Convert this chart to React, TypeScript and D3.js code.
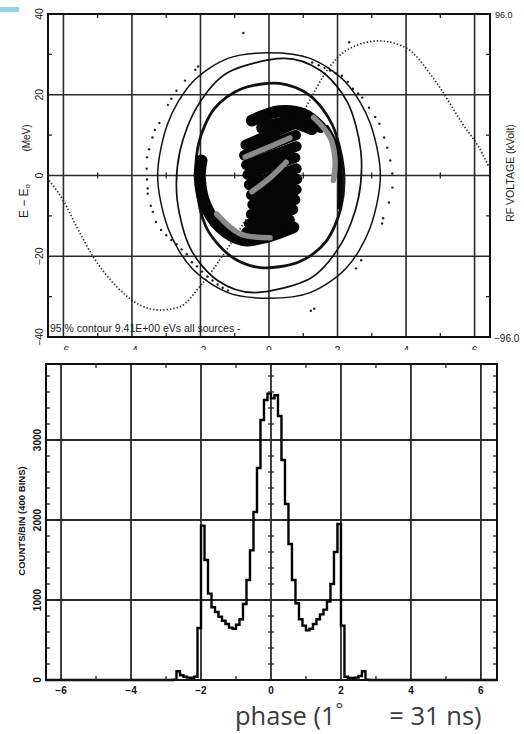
import * as d3 from "d3";

// axis ticks
const phaseTicks = [-6, -4, -2, 0, 2, 4, 6];
const energyTicks = [40, 20, 0, -20, -40];
const energyGrid = [20, 0, -20];
const energyMinor = [30, 10, -10, -30];
const countTicks = [0, 1000, 2000, 3000];
const countGrid = [1000, 2000, 3000];

// phase histogram, 0.1 deg bins (left edges)
const histPhase = [
  -2.8, -2.7, -2.6, -2.5, -2.4, -2.3, -2.2, -2.1, -2.0, -1.9, -1.8, -1.7, -1.6, -1.5,
  -1.4, -1.3, -1.2, -1.1, -1.0, -0.9, -0.8, -0.7, -0.6, -0.5, -0.4, -0.3, -0.2, -0.1,
  0.0, 0.1, 0.2, 0.3, 0.4, 0.5, 0.6, 0.7, 0.8, 0.9, 1.0, 1.1, 1.2, 1.3, 1.4, 1.5,
  1.6, 1.7, 1.8, 1.9, 2.0, 2.1, 2.2, 2.3, 2.4, 2.5, 2.6, 2.7,
];
const histCounts = [
  5, 110, 60, 40, 30, 25, 40, 650, 1930, 1500, 1080, 910, 850, 790,
  740, 700, 655, 640, 690, 760, 950, 1250, 1620, 2100, 2650, 3250, 3500, 3580,
  3520, 3560, 3300, 2750, 2200, 1700, 1250, 960, 760, 680, 620, 640, 700, 760, 820, 880,
  980, 1200, 1600, 1950, 680, 40, 25, 25, 30, 50, 110, 5,
];
const histEnd = 2.8;

// RF voltage (kV) vs phase
const rfPhase = [-6.42, -6.0, -5.6, -5.14, -4.45, -3.77, -3.19, -2.6, -2.02, -1.43, -1.04, -0.5, 0, 0.5, 1.06, 1.75, 2.23, 3.2, 3.99, 4.86, 5.64, 6.23, 6.42];
const rfVolt = [-3, -15, -31, -48, -66, -77, -80, -78, -66, -50, -38, -20, 0, 20, 40, 64, 74, 80, 76, 56, 31, 13, 5];

// contours (phase, MeV)
const outerContour: [number, number][] = [
  [0, 30.4], [1.2, 29], [2.25, 23], [2.95, 13], [3.25, 0], [2.95, -13], [2.25, -23], [1.2, -29],
  [0, -30.4], [-1.2, -29], [-2.25, -23], [-2.95, -13], [-3.25, 0], [-2.95, 13], [-2.25, 23], [-1.2, 29],
];
const middleContour: [number, number][] = [
  [0.4, 29], [1.5, 26], [2.3, 18], [2.68, 6], [2.6, -6], [2.1, -17], [1.2, -25.5],
  [-0.4, -29], [-1.5, -26], [-2.3, -18], [-2.68, -6], [-2.6, 6], [-2.1, 17], [-1.2, 25.5],
];
const innerContour: [number, number][] = [
  [0.3, 22.8], [1.2, 19.8], [1.85, 12.5], [2.17, 2], [2.1, -8], [1.65, -16.5], [0.85, -21.5],
  [-0.25, -22.8], [-1.15, -19.8], [-1.85, -12.5], [-2.12, -2], [-2.05, 8], [-1.6, 16.5], [-0.8, 21.5],
];

// beam particles, drawn as brush strokes
const armStrokes: [number, number][][] = [
  [[-0.5, 13.6], [0.3, 15.9], [1.0, 15.2], [1.5, 12.0]],
  [[-0.2, 11.8], [0.6, 13.2], [1.25, 11.5]],
  [[0.71, -12.8], [-0.07, -15.2], [-0.75, -16.0], [-1.43, -12.8], [-1.87, -7.0], [-2.02, -0.4], [-1.97, 3.7]],
];
const thinArm: [number, number][] = [[1.69, 11.9], [1.98, 7.0], [2.08, 0.4], [2.06, -7.8]];
const coreStrokes: [number, number][][] = [
  [[-0.68, 7.6], [0.2, 10.8], [0.95, 13.6]],
  [[-0.72, 5.0], [0.1, 7.8], [0.78, 10.0]],
  [[-0.66, 2.6], [0.16, 5.2], [0.8, 7.2]],
  [[-0.62, 0.2], [0.18, 2.7], [0.76, 4.4]],
  [[-0.58, -2.3], [0.2, 0.0], [0.8, 1.7]],
  [[-0.52, -4.8], [0.2, -2.6], [0.82, -0.9]],
  [[-0.48, -7.2], [0.2, -5.1], [0.8, -3.5]],
  [[-0.52, -9.6], [0.2, -7.5], [0.76, -6.0]],
  [[-0.58, -12.0], [0.18, -9.9], [0.7, -8.4]],
  [[-0.66, -14.0], [0.1, -12.2], [0.6, -11.0]],
];
const grayStrokes: [number, number][][] = [
  [[-0.7, 4.6], [-0.07, 6.8], [0.61, 9.3]],
  [[-0.5, -4.0], [0.03, -0.6], [0.5, 3.3]],
  [[1.3, 14.4], [1.78, 9.5], [1.93, 3.7], [1.88, -1.2]],
  [[-1.53, -9.5], [-0.85, -14.4], [0.03, -15.4]],
];

// separatrix tracking dots
const trackDots: [number, number][] = [
  [-2.07, 27], [-2.15, 26.2], [-2.45, 23.5], [-2.7, 21], [-2.85, 19], [-2.95, 17.5], [-3.2, 13],
  [-3.33, 11.3], [-3.4, 9.4], [-3.5, 6.5], [-3.56, 4.5], [-3.57, 1.7], [-3.56, -1], [-3.54, -3.2],
  [-3.54, -4.5], [-3.45, -7.5], [-3.39, -9], [-3.3, -11.5], [-3.15, -13.5], [-3.0, -14.8],
  [-2.85, -16], [-2.7, -17], [-2.55, -18.3], [-2.4, -19.5], [-2.25, -21.5], [-2.1, -22.5],
  [-1.95, -23.8], [-1.8, -25], [-1.65, -26], [-1.5, -27], [-1.35, -27.8], [-1.2, -28.5],
  [-0.75, 35.3], [2.34, 33],
  [1.26, 28], [1.45, 27.3], [1.62, 26.6], [1.78, 26], [1.95, 25.3], [2.13, 24.7], [2.3, 23.2],
  [2.45, 21.5], [2.6, 20.3], [2.72, 19.3], [2.92, 16.8], [3.1, 14.5], [3.22, 12.8], [3.36, 9.4],
  [3.45, 6.9], [3.54, 3.7], [3.6, 0.5], [3.6, -3], [3.5, -6.7], [3.33, -10.6], [3.3, -11.9],
  [2.69, -21], [2.54, -23], [1.32, -33], [1.22, -33.5],
];

const sans = "'Liberation Sans', Arial, sans-serif";
const minus = (v: number) => (v < 0 ? `\u2212${Math.abs(v)}` : `${v}`);

export default function App() {
  const top = { left: 48, right: 490, top: 14, bottom: 337 };
  const bot = { left: 46, right: 497, top: 364, bottom: 680 };

  const xTop = d3.scaleLinear().domain([-6.45, 6.45]).range([top.left, top.right]);
  const yTop = d3.scaleLinear().domain([-40, 40]).range([top.bottom, top.top]);
  const yRf = d3.scaleLinear().domain([-96, 96]).range([top.bottom, top.top]);
  const xBot = d3.scaleLinear().domain([-6.43, 6.46]).range([bot.left, bot.right]);
  const yBot = d3.scaleLinear().domain([0, 3950]).range([bot.bottom, bot.top]);

  const closed = d3
    .line<[number, number]>()
    .x((d) => xTop(d[0]))
    .y((d) => yTop(d[1]))
    .curve(d3.curveCardinalClosed.tension(0.1));
  const brush = d3
    .line<[number, number]>()
    .x((d) => xTop(d[0]))
    .y((d) => yTop(d[1]))
    .curve(d3.curveCatmullRom);
  const rfLine = d3
    .line<number>()
    .x((_, i) => xTop(rfPhase[i]))
    .y((d) => yRf(d))
    .curve(d3.curveMonotoneX);

  const histPts: [number, number][] = [
    [xBot.domain()[0], 0],
    ...histPhase.map((p, i) => [p, histCounts[i]] as [number, number]),
    [histEnd, 0],
    [xBot.domain()[1], 0],
  ];
  const histLine = d3
    .line<[number, number]>()
    .x((d) => xBot(d[0]))
    .y((d) => yBot(d[1]))
    .curve(d3.curveStepAfter);

  const oddPhase = xTop.ticks(13).filter((t) => Math.abs(t) % 2 === 1);
  const countMinor = yBot.ticks(20).filter((t) => t > 0 && t % 1000 !== 0);

  const grid = "#2a2a2a";

  return (
    <svg
      width={524}
      height={734}
      viewBox="0 0 524 734"
      style={{ position: "absolute", left: 0, top: 0, background: "#fff" }}
      fontFamily={sans}
    >
      <rect x={0} y={7} width={19} height={5} fill="#8fd2ea" />

      {/* ---------- top: longitudinal phase space ---------- */}
      <defs>
        <clipPath id="topLabels">
          <rect x={0} y={0} width={524} height={350} />
        </clipPath>
      </defs>
      <g stroke={grid} strokeWidth={1.6}>
        {phaseTicks.map((t) => (
          <line key={`vx${t}`} x1={xTop(t)} x2={xTop(t)} y1={top.top} y2={top.bottom} />
        ))}
        {energyGrid.map((t) => (
          <line key={`hy${t}`} x1={top.left} x2={top.right} y1={yTop(t)} y2={yTop(t)} />
        ))}
      </g>
      <g stroke="#222" strokeWidth={1.3}>
        {oddPhase.map((t) => (
          <g key={`mt${t}`}>
            <line x1={xTop(t)} x2={xTop(t)} y1={top.top} y2={top.top + 4} />
            <line x1={xTop(t)} x2={xTop(t)} y1={top.bottom} y2={top.bottom - 4} />
            <line x1={xTop(t)} x2={xTop(t)} y1={yTop(0) - 3} y2={yTop(0) + 3} />
          </g>
        ))}
        {energyMinor.map((t) => (
          <g key={`me${t}`}>
            <line x1={top.left} x2={top.left + 4} y1={yTop(t)} y2={yTop(t)} />
            <line x1={top.right} x2={top.right - 4} y1={yTop(t)} y2={yTop(t)} />
          </g>
        ))}
      </g>

      <path d={rfLine(rfVolt) ?? ""} fill="none" stroke="#2e2e2e" strokeWidth={1.7} strokeDasharray="1.4 2" />
      {trackDots.map((d, i) => (
        <circle key={`d${i}`} cx={xTop(d[0])} cy={yTop(d[1])} r={1.2} fill="#222" />
      ))}

      <path d={closed(outerContour) ?? ""} fill="none" stroke="#111" strokeWidth={1.5} />
      <path d={closed(middleContour) ?? ""} fill="none" stroke="#111" strokeWidth={1.7} />
      <path d={closed(innerContour) ?? ""} fill="none" stroke="#111" strokeWidth={2.8} />

      <g fill="none" strokeLinecap="round" strokeLinejoin="round">
        {armStrokes.map((s, i) => (
          <path key={`a${i}`} d={brush(s) ?? ""} stroke="#050505" strokeWidth={12} />
        ))}
        <path d={brush(thinArm) ?? ""} stroke="#050505" strokeWidth={5} />
        {coreStrokes.map((s, i) => (
          <path key={`c${i}`} d={brush(s) ?? ""} stroke="#050505" strokeWidth={10.5} />
        ))}
        {grayStrokes.map((s, i) => (
          <path key={`g${i}`} d={brush(s) ?? ""} stroke="#8a8a8a" strokeWidth={5.5} />
        ))}
      </g>

      <rect x={top.left} y={top.top} width={top.right - top.left} height={top.bottom - top.top} fill="none" stroke="#111" strokeWidth={2} />

      <g fontSize={10.5} fill="#1a1a1a">
        {energyTicks.map((t) => (
          <text key={`el${t}`} transform={`translate(39,${yTop(t)}) rotate(-90)`} textAnchor="middle" dominantBaseline="central">
            {minus(t)}
          </text>
        ))}
        <text transform="translate(26,138) rotate(-90)" textAnchor="middle" dominantBaseline="central" fontSize={10}>
          (MeV)
        </text>
        <text transform="translate(24,201) rotate(-90)" textAnchor="middle" dominantBaseline="central" fontSize={12}>
          E − E<tspan fontSize={8} dy={3}>o</tspan>
        </text>
        <text transform="translate(510,173) rotate(-90)" textAnchor="middle" dominantBaseline="central" fontSize={10.5}>
          RF VOLTAGE (kVolt)
        </text>
        <text x={495} y={18} fontSize={9}>96.0</text>
        <text x={494} y={342} fontSize={10}>−96.0</text>
        <text x={50} y={332} fontSize={10.5}>95 % contour 9.41E+00 eVs all sources -</text>
        <g clipPath="url(#topLabels)">
          {phaseTicks.map((t) => (
            <text key={`tl${t}`} x={xTop(t)} y={354} textAnchor="middle">
              {minus(t)}
            </text>
          ))}
        </g>
      </g>

      {/* ---------- bottom: phase histogram ---------- */}
      <g stroke={grid} strokeWidth={1.8}>
        {phaseTicks.map((t) => (
          <line key={`bvx${t}`} x1={xBot(t)} x2={xBot(t)} y1={bot.top} y2={bot.bottom} />
        ))}
        {countGrid.map((t) => (
          <line key={`bhy${t}`} x1={bot.left} x2={bot.right} y1={yBot(t)} y2={yBot(t)} />
        ))}
      </g>
      <g stroke="#222" strokeWidth={1.3}>
        {countMinor.map((t) => (
          <g key={`cm${t}`}>
            <line x1={bot.left} x2={bot.left + 4} y1={yBot(t)} y2={yBot(t)} />
            <line x1={bot.right} x2={bot.right - 4} y1={yBot(t)} y2={yBot(t)} />
            <line x1={xBot(0) - 3} x2={xBot(0) + 3} y1={yBot(t)} y2={yBot(t)} />
          </g>
        ))}
        {oddPhase.map((t) => (
          <g key={`bm${t}`}>
            <line x1={xBot(t)} x2={xBot(t)} y1={bot.top} y2={bot.top + 4} />
            <line x1={xBot(t)} x2={xBot(t)} y1={bot.bottom} y2={bot.bottom - 4} />
          </g>
        ))}
      </g>
      <path d={histLine(histPts) ?? ""} fill="none" stroke="#000" strokeWidth={2.4} strokeLinejoin="miter" />
      <rect x={bot.left} y={bot.top} width={bot.right - bot.left} height={bot.bottom - bot.top} fill="none" stroke="#111" strokeWidth={2} />

      <g fontSize={10} fontWeight="bold" fill="#111">
        {countTicks.map((t) => (
          <text key={`cl${t}`} transform={`translate(37,${yBot(t)}) rotate(-90)`} textAnchor="middle" dominantBaseline="central">
            {t}
          </text>
        ))}
        {phaseTicks.map((t) => (
          <text key={`bl${t}`} x={xBot(t)} y={694} textAnchor="middle">
            {minus(t)}
          </text>
        ))}
        <text transform="translate(21,521) rotate(-90)" textAnchor="middle" dominantBaseline="central" fontSize={9.5}>
          COUNTS/BIN (400 BINS)
        </text>
      </g>

      <text x={235} y={725} fontFamily="'Open Sans', sans-serif" fill="#3b3b3b" fontSize={25.5}>
        phase (1
        <tspan fontSize={18} dy={-9}>°</tspan>
        <tspan dy={9} dx={46}>= 31 ns)</tspan>
      </text>
    </svg>
  );
}
